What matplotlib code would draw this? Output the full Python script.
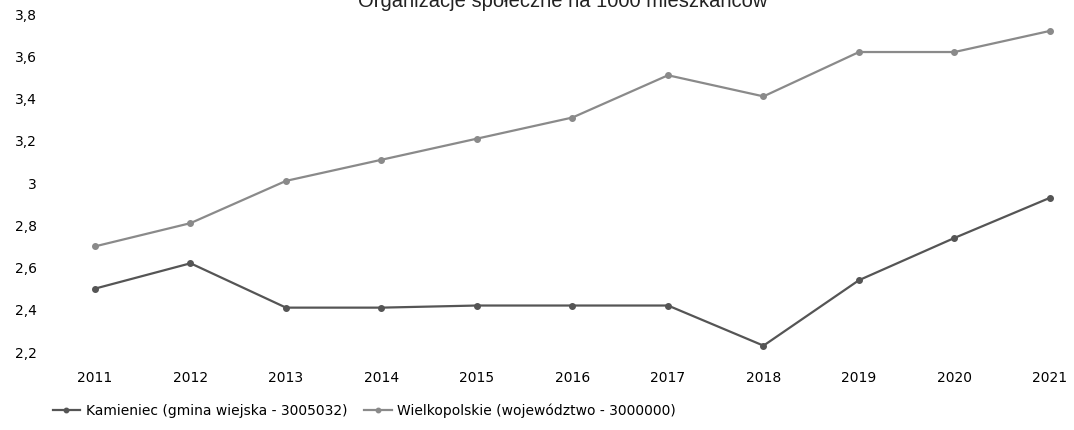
import numpy as np
import matplotlib.pyplot as plt

# Values
years = [2011, 2012, 2013, 2014, 2015, 2016, 2017, 2018, 2019, 2020, 2021]
kamieniec = [2.50, 2.62, 2.41, 2.41, 2.42, 2.42, 2.42, 2.23, 2.54, 2.74, 2.93]
wielkopolskie = [2.70, 2.81, 3.01, 3.11, 3.21, 3.31, 3.51, 3.41, 3.62, 3.62, 3.72]
y_ticks = [2.2, 2.4, 2.6, 2.8, 3.0, 3.2, 3.4, 3.6, 3.8]
y_labels = ["2,2", "2,4", "2,6", "2,8", "3", "3,2", "3,4", "3,6", "3,8"]

W, H = 1074, 430
fig = plt.figure(figsize=(W / 100, H / 100), dpi=100)
# axes placed in pixel terms: 2011 at x=95, 2021 at x=1050, 3.8 at y=14, 2.2 at y=352
ax = fig.add_axes([95 / W, (H - 352) / H, (1050 - 95) / W, (352 - 14) / H])
ax.set_xlim(2011, 2021)
ax.set_ylim(2.2, 3.8)

l1, = ax.plot(years, kamieniec, color="#555555", lw=1.6, marker="o", ms=4,
              clip_on=False, label="Kamieniec (gmina wiejska - 3005032)")
l2, = ax.plot(years, wielkopolskie, color="#8a8a8a", lw=1.6, marker="o", ms=4,
              clip_on=False, label="Wielkopolskie (województwo - 3000000)")

for s in ax.spines.values():
    s.set_visible(False)
ax.set_xticks(years)
ax.set_xticklabels([str(y) for y in years], fontsize=10, color="#000000")
ax.set_yticks(y_ticks)
ax.set_yticklabels(y_labels, fontsize=10, color="#000000")
ax.tick_params(length=0)
ax.tick_params(axis="x", pad=14)
ax.tick_params(axis="y", pad=42)

# title is cut off by the top edge in the original scan
fig.text(0.524, 1 - 7 / H, "Organizacje społeczne na 1000 mieszkańców",
         ha="center", va="baseline", fontsize=14.5, family="Liberation Sans",
         color="#222222")

fig.legend(handles=[l1, l2], loc="lower left", bbox_to_anchor=(40 / W, 0.0),
           ncol=2, frameon=False, fontsize=10, handlelength=2.0,
           handletextpad=0.4, columnspacing=1.2, markerscale=0.8)

fig.savefig("out.png", dpi=100)
